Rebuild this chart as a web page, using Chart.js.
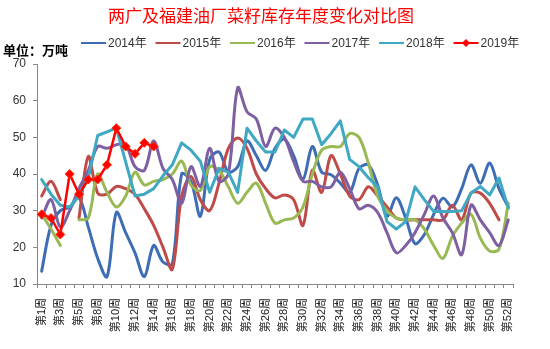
<!DOCTYPE html>
<html><head><meta charset="utf-8">
<script src="https://cdn.jsdelivr.net/npm/chart.js@4.4.0/dist/chart.umd.min.js"></script>
<style>html,body{margin:0;padding:0;background:#fff;}canvas{display:block;}</style>
</head><body>
<canvas id="c" width="550" height="349"></canvas>
<script>
const weekLabels = ["第1周","第2周","第3周","第4周","第5周","第6周","第8周","第9周","第10周","第11周","第12周","第13周","第14周","第15周","第16周","第17周","第18周","第19周","第20周","第21周","第22周","第23周","第24周","第25周","第26周","第27周","第28周","第29周","第30周","第31周","第32周","第33周","第34周","第35周","第36周","第37周","第38周","第39周","第40周","第41周","第42周","第43周","第44周","第45周","第46周","第47周","第48周","第49周","第50周","第51周","第52周"];
const yTicks = [10,20,30,40,50,60,70];
const seriesNames = ["2014年","2015年","2016年","2017年","2018年","2019年"];
const s2014 = [13.5,26,30,31,33.5,25.5,17,12,29.5,24, 18.5,12,20.5,16,15.5,40,38,28.5,44,46, 40.5,42,49,45,41,47,49.5,45,38.5,47.5, 40.5,39.8,37.5,35,41.5,42.5,37,28.5,33.5,28, 21,23.5,29,33.4,31,36,42.5,37.5,43,36,31];
const s2015 = [34,38,33,null,28,44.8,34.8,34.5,36.6,36, 34.5,30.5,26,20,14,34,39.3,33,30,37.5, 47,49.8,47,40,36,33.5,34.3,33,26,41, 35,45,40,34,33,36.5,34,31,28,27.5, 27.5,27.5,27.5,27.5,31.5,27.5,34.8,34.8,32,27.5];
const s2016 = [29,25,20.5,null,27.5,28,40,35,31,34, 40.5,37,38,38.5,40,43.5,37,35.5,42,41, 36.5,32,35,37.5,32,26.6,27.5,28,31,40, 46.5,47.5,47.5,51,50,43,34,30,28,27.5, 27.5,25,20.5,17,23,26.6,29,22.5,19,19.5,32];
const s2017 = [28,33,25.5,30,36,41,47.5,47,48,48, 42,41,49,41.5,38.5,32,42,36.6,47,38, 40,63.5,57,55,47.5,52.5,50,43.4,38,38, 36.5,36.5,40.5,36,30.5,31.5,29.5,24,18.5,20.5, 24,29,34,28,24,18,31.5,27.5,24,20.5,27.5];
const s2018 = [38.5,34.5,31.5,31,34,39,50.5,51.5,52.5,43.3, 34,34.5,36,39.5,42.5,48.5,46.5,43.5,35,41.5, 40.5,35,52.5,49,46,46,52,50,55,55, 48,51,54.5,44,42,39,36.5,27,25,27, 36.5,33,29.8,29.8,29.8,30,34.8,36.6,34.3,38.9,30.7];
const s2019 = [29,28,23.5,40,34.5,38.5,38.5,42.5,52.5,47.5,45.5,48.5,47.5];
const colors = ["#3D6DB5","#BE4B48","#98B954","#7E5FA1","#3FA9C4","#FF0000"];

const seriesData = [s2014,s2015,s2016,s2017,s2018,s2019];
const datasets = seriesData.map((d,i)=>{
  const smooth = (i<=3);
  const ds = {
    label: seriesNames[i], data: d, borderColor: colors[i], backgroundColor: colors[i],
    borderWidth: i===5?2.5:3, tension: smooth?0.33:0, pointRadius: 0, order: 5-i,
    borderCapStyle:'round', borderJoinStyle:'round', spanGaps:false
  };
  if(i===5){ ds.pointRadius=4.5; ds.pointStyle='rectRot'; ds.pointBackgroundColor='#FF0000'; ds.pointBorderColor='#FF3300'; ds.pointBorderWidth=1; }
  return ds;
});

const decor = {
  id:'decor',
  afterDraw(chart){
    const ctx = chart.ctx;
    ctx.save();
    ctx.fillStyle = '#FF0000';
    ctx.font = "17px 'Noto Sans CJK SC'";
    ctx.textAlign='center'; ctx.textBaseline='middle';
    ctx.fillText("两广及福建油厂菜籽库存年度变化对比图", 261, 16);
    ctx.fillStyle = '#000';
    ctx.font = "bold 13px 'Noto Sans CJK SC'";
    ctx.textAlign='left';
    ctx.fillText("单位：万吨", 3, 50);
    ctx.font = "12px 'Liberation Sans','Noto Sans CJK SC'";
    chart.data.datasets.forEach((ds,i)=>{
      const tx = 108 + 74.5*i;
      const y = 43;
      ctx.strokeStyle = ds.borderColor; ctx.lineWidth = 2;
      ctx.beginPath(); ctx.moveTo(tx-27,y); ctx.lineTo(tx-2,y); ctx.stroke();
      if(i===5){
        const cx = tx-14.5; ctx.fillStyle='#FF0000';
        ctx.beginPath(); ctx.moveTo(cx,y-4); ctx.lineTo(cx+4,y); ctx.lineTo(cx,y+4); ctx.lineTo(cx-4,y); ctx.closePath(); ctx.fill();
      }
      ctx.fillStyle='#333';
      ctx.fillText(ds.label, tx, y+1);
    });
    ctx.restore();
  }
};

new Chart(document.getElementById('c'), {
  type:'line',
  data:{ labels: weekLabels, datasets },
  options:{
    responsive:false, animation:false,
    layout:{ padding:{ left:0, right:37, top:64, bottom:0 } },
    plugins:{ legend:{display:false}, title:{display:false}, tooltip:{enabled:false} },
    scales:{
      x:{
        type:'category', offset:true,
        grid:{ display:true, drawOnChartArea:false, drawTicks:true, tickLength:4, offset:true, color:'#868686' },
        border:{ display:true, color:'#868686', width:1 },
        ticks:{ autoSkip:false, maxRotation:90, minRotation:90, padding:10, color:'#222',
          font:{ family:"'Liberation Sans','Noto Sans CJK SC'", size:11 },
          callback:(v,i)=> i%2===0 ? weekLabels[i] : '' },
        afterFit:(s)=>{ s.height = 65; s.paddingLeft=0; s.paddingRight=0; }
      },
      y:{
        min: yTicks[0], max: yTicks[yTicks.length-1],
        afterBuildTicks:(s)=>{ s.ticks = yTicks.map(v=>({value:v})); },
        grid:{ display:true, drawOnChartArea:false, drawTicks:true, tickLength:4, color:'#868686' },
        border:{ display:true, color:'#868686', width:1 },
        ticks:{ padding:7, color:'#333', font:{ family:"'Liberation Sans','DejaVu Sans'", size:12 } },
        afterFit:(s)=>{ s.width = 37; s.paddingTop=0; s.paddingBottom=0; }
      }
    }
  },
  plugins:[decor]
});
</script>
</body></html>
